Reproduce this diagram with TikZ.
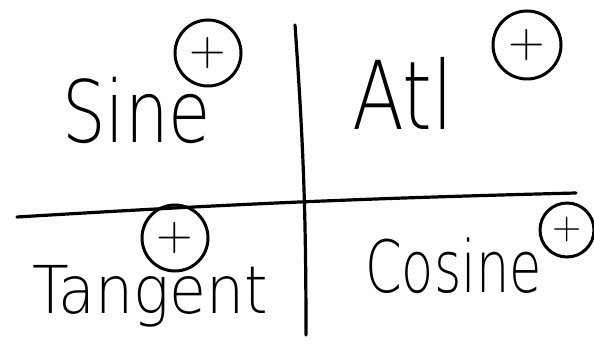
\documentclass[tikz,border=0pt]{standalone}
\usepackage{fontspec}
\newfontfamily\thinhand{DejaVu Sans ExtraLight}
\usetikzlibrary{positioning}
\tikzset{
  pen/.style={line width=3.2pt, line cap=round, line join=round},
  quadtxt/.style={inner sep=0pt, anchor=base west, font=\thinhand},
  signring/.style={circle, draw, line width=3pt, minimum size=#1, inner sep=0pt,
    font=\sffamily\fontsize{50}{50}\selectfont},
}
% word at a given size, squeezed sideways
\newcommand{\handword}[3]{\scalebox{#2}[1]{\fontsize{#1}{#1}\selectfont #3}}

\begin{document}
\begin{tikzpicture}[x=1pt, y=-1pt]
  \useasboundingbox (0,0) rectangle (594,344);

  %% ---- axes ----
  \coordinate (vtop) at (295,25);
  \coordinate (vbot) at (306,335);
  \coordinate (hleft) at (17,217);
  \coordinate (hright) at (576,193);
  \draw[pen] (vtop) to[bend left=2] (vbot);
  \draw[pen] (hleft) to[bend left=1] (hright);

  %% ---- quadrant words ----
  \node[quadtxt] (sine) at (62,143) {\handword{86}{0.8}{Sine}};
  \node[quadtxt] (all)  at (352,130) {\handword{95}{0.8}{Atl}};
  \node[quadtxt] (tan)  at (32,314) {\handword{66}{0.91}{Tangent}};
  \node[quadtxt] (cos)  at (365,293) {\handword{72}{0.73}{Cosine}};

  %% ---- signs ----
  \node[signring=66pt] (s1) at (208,53) {+};
  \node[signring=68pt] (s2) at (527,45) {+};
  \node[signring=66pt] (s3) at (175,238) {+};
  \node[signring=54pt, font=\sffamily\fontsize{40}{40}\selectfont] (s4) at (567,230) {+};
\end{tikzpicture}
\end{document}
